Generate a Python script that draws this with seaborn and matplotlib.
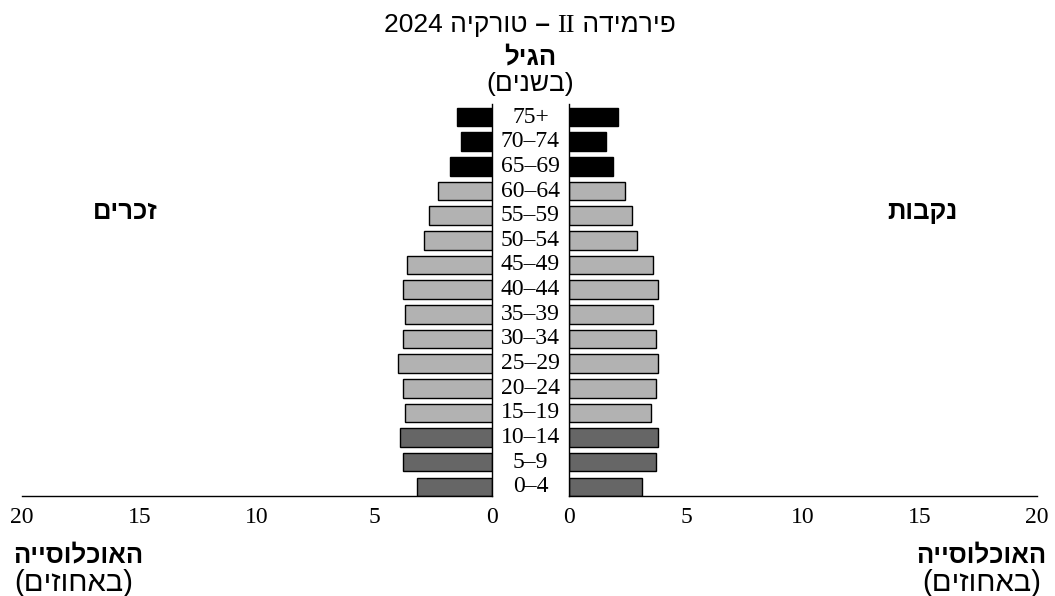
import re
import pandas as pd
import matplotlib
matplotlib.use("Agg")
import matplotlib.pyplot as plt
import matplotlib.transforms as mtrans
import seaborn as sns

# ---------------- data ----------------
age_groups = ["75+", "70–74", "65–69", "60–64", "55–59", "50–54", "45–49", "40–44",
              "35–39", "30–34", "25–29", "20–24", "15–19", "10–14", "5–9", "0–4"]
males = [1.5, 1.3, 1.8, 2.3, 2.7, 2.9, 3.6, 3.8, 3.7, 3.8, 4.0, 3.8, 3.7, 3.9, 3.8, 3.2]
females = [2.1, 1.6, 1.9, 2.4, 2.7, 2.9, 3.6, 3.8, 3.6, 3.7, 3.8, 3.7, 3.5, 3.8, 3.7, 3.1]
x_ticks = [0, 5, 10, 15, 20]

title_word = "פירמידה"
title_num = "II"
title_rest = "טורקיה 2024"
age_title = "הגיל"
age_unit = "(בשנים)"
male_label = "זכרים"
female_label = "נקבות"
pop_title = "האוכלוסייה"
pop_unit = "(באחוזים)"

BLACK, LIGHT, DARK = "#000000", "#b2b2b2", "#666666"
colors = {g: BLACK for g in age_groups[:3]}
colors.update({g: LIGHT for g in age_groups[3:13]})
colors.update({g: DARK for g in age_groups[13:]})


def heb(s):
    '''very small bidi: matplotlib draws left to right, so flip RTL text'''
    tokens = re.findall(r"[A-Za-z0-9]+|.", s)[::-1]
    mirror = {"(": ")", ")": "("}
    return "".join(mirror.get(t, t) for t in tokens)


df = pd.DataFrame({"age": age_groups, "males": males, "females": females})

sns.set_style("white")
plt.rcParams["font.family"] = ["Liberation Serif", "DejaVu Sans"]
plt.rcParams["text.color"] = "black"

W, H = 1055, 596
fig = plt.figure(figsize=(W / 100, H / 100), dpi=100)
bottom = 1 - 496 / H
height = 392 / H
axL = fig.add_axes([22 / W, bottom, 470 / W, height])
axR = fig.add_axes([569 / W, bottom, 468 / W, height])

for ax, col in ((axL, "males"), (axR, "females")):
    sns.barplot(data=df, x=col, y="age", hue="age", order=age_groups, palette=colors,
                orient="h", width=0.75, edgecolor="black", linewidth=1,
                legend=False, ax=ax)
    ax.set_ylim(15.37, -0.53)
    ax.set_yticks([])
    ax.set_xlabel("")
    ax.set_ylabel("")
    ax.set_xticks(x_ticks)
    ax.set_xticklabels([str(t) for t in x_ticks])
    ax.tick_params(axis="x", direction="out", length=6, width=1, labelsize=17,
                   pad=2, color="black", labelcolor="black")
    for sp in ax.spines.values():
        sp.set_linewidth(1)
        sp.set_color("black")

axL.set_xlim(20, 0)
axR.set_xlim(0, 20)
sns.despine(ax=axL, top=True, left=True, right=False, bottom=False)
sns.despine(ax=axR, top=True, right=True, left=False, bottom=False)

# age labels in the middle gap
tr = mtrans.blended_transform_factory(fig.transFigure, axL.transData)
for i, g in enumerate(age_groups):
    axL.text(530.5 / W, i, g, transform=tr, ha="center", va="center", fontsize=17,
             family=["Liberation Serif", "DejaVu Sans"], clip_on=False)


def ftext(x, y, s, **kw):
    fig.text(x / W, 1 - y / H, heb(s), ha="center", va="center", **kw)


sans = ["Liberation Sans", "DejaVu Sans"]
serif = ["Liberation Serif", "DejaVu Sans"]

#---- title made of pieces (visual order, left to right) ----#
pieces = [(heb(title_rest), sans, "normal"), (" – ", sans, "bold"),
          (title_num, serif, "normal"), (" " + heb(title_word), sans, "normal")]
parts = [fig.text(0, 1 - 32 / H, txt, fontsize=19, family=fam, fontweight=wt,
                  va="baseline") for txt, fam, wt in pieces]
fig.canvas.draw()
r = fig.canvas.get_renderer()
widths = [p.get_window_extent(r).width for p in parts]
x = 530 - sum(widths) / 2
for p, w in zip(parts, widths):
    p.set_x(x / W)
    x += w

ftext(530, 57, age_title, fontsize=18.5, family=sans, fontweight="bold")
ftext(530, 84, age_unit, fontsize=19, family=sans)
ftext(125, 212, male_label, fontsize=18.5, family=sans, fontweight="bold")
ftext(922, 212, female_label, fontsize=18.5, family=sans, fontweight="bold")
ftext(78, 555, pop_title, fontsize=18.5, family=sans, fontweight="bold")
ftext(74, 583, pop_unit, fontsize=21, family=sans)
ftext(981, 555, pop_title, fontsize=18.5, family=sans, fontweight="bold")
ftext(982, 583, pop_unit, fontsize=21, family=sans)

fig.savefig("out.png", dpi=100)
